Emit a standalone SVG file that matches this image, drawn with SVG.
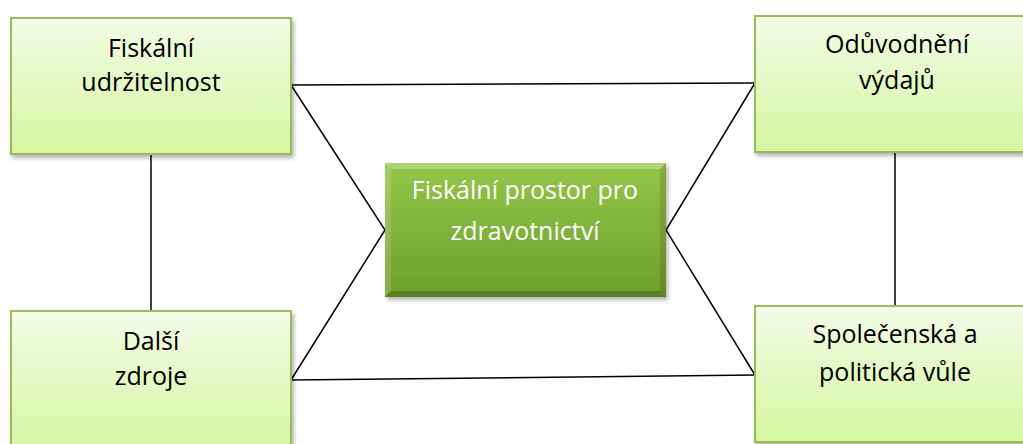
<svg xmlns="http://www.w3.org/2000/svg" width="1023" height="444" viewBox="0 0 1023 444">
<style>
.box{fill:url(#lg);stroke:#9bbb59;stroke-width:2}
.t{font-family:"Open Sans","Noto Sans",sans-serif;font-size:25px;fill:#000;text-anchor:middle}
.tc{font-family:"Open Sans","Noto Sans",sans-serif;font-size:25px;fill:#fff;text-anchor:middle}
.c{stroke:#000;stroke-width:1.5;fill:none}
</style>
<defs>
<linearGradient id="lg" x1="0" y1="0" x2="0" y2="1">
<stop offset="0" stop-color="#f3fbe6"/>
<stop offset="1" stop-color="#d5f5a0"/>
</linearGradient>
<linearGradient id="cg" x1="0" y1="0" x2="0" y2="1">
<stop offset="0" stop-color="#94c64a"/>
<stop offset="1" stop-color="#6e9e2b"/>
</linearGradient>
<filter id="sh" x="-10%" y="-10%" width="130%" height="130%">
<feDropShadow dx="2" dy="3" stdDeviation="2" flood-color="#000" flood-opacity="0.3"/>
</filter>
</defs>
<g id="connectors">
<polyline class="c" points="291,85 755,83"/>
<polyline class="c" points="291,85 385,230 291,380"/>
<polyline class="c" points="755,83 666,230 755,375"/>
<polyline class="c" points="291,380 755,375"/>
<line class="c" x1="151" y1="154" x2="151" y2="311"/>
<line class="c" x1="895" y1="152" x2="895" y2="306"/>
</g>
<g id="n1">
<rect class="box" x="11" y="18" width="280" height="136" filter="url(#sh)"/>
<text class="t" x="151" y="57">Fiskální</text>
<text class="t" x="151" y="91">udržitelnost</text>
</g>
<g id="n2">
<rect class="box" x="755" y="16" width="284" height="136" filter="url(#sh)"/>
<text class="t" x="897" y="53">Odůvodnění</text>
<text class="t" x="897" y="89">výdajů</text>
</g>
<g id="n3">
<rect class="box" x="11" y="311" width="280" height="140" filter="url(#sh)"/>
<text class="t" x="151" y="350">Další</text>
<text class="t" x="151" y="385">zdroje</text>
</g>
<g id="n4">
<rect class="box" x="755" y="306" width="282" height="136" filter="url(#sh)"/>
<text class="t" x="895" y="343">Společenská a</text>
<text class="t" x="895" y="381">politická vůle</text>
</g>
<g id="center">
<rect x="385" y="163" width="281" height="134" fill="url(#cg)" filter="url(#sh)"/>
<polygon points="385,163 666,163 660,169 391,169" fill="#ffffff" opacity="0.25"/>
<polygon points="385,163 391,169 391,291 385,297" fill="#ffffff" opacity="0.15"/>
<polygon points="666,163 666,297 660,291 660,169" fill="#000" opacity="0.12"/>
<polygon points="385,297 391,291 660,291 666,297" fill="#000" opacity="0.2"/>
<text class="tc" x="525" y="199">Fiskální prostor pro</text>
<text class="tc" x="525" y="240">zdravotnictví</text>
</g>
</svg>
